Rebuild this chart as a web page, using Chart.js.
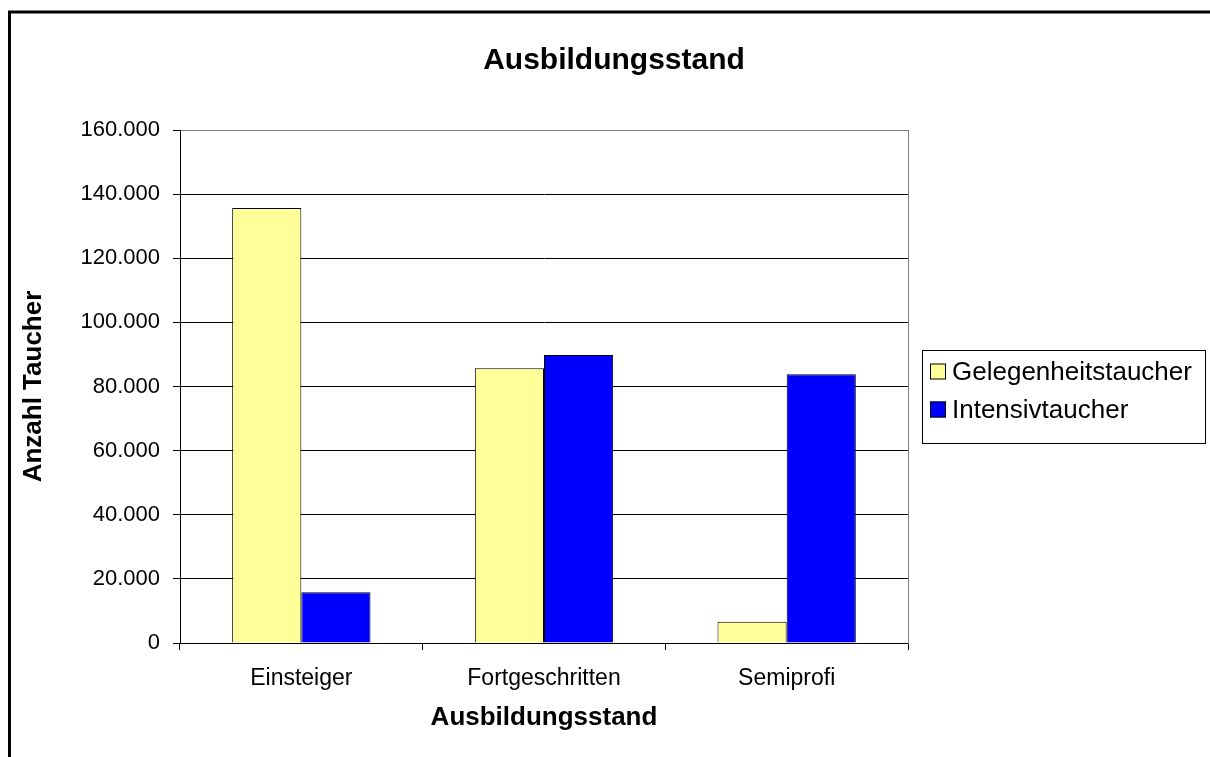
<!DOCTYPE html>
<html><head><meta charset="utf-8">
<script src="https://cdn.jsdelivr.net/npm/chart.js@4.4.0/dist/chart.umd.min.js"></script>
<style>html,body{margin:0;padding:0;background:#fff;}canvas{display:block;}</style>
</head><body>
<canvas id="c" width="1210" height="757" style="width:1210px;height:757px"></canvas>
<script>
const categories = ['Einsteiger', 'Fortgeschritten', 'Semiprofi'];
const seriesNames = ['Gelegenheitstaucher', 'Intensivtaucher'];
const gelegenheitstaucher = [135700, 85700, 6600];
const intensivtaucher = [15800, 89800, 83800];
const yTickValues = [0, 20000, 40000, 60000, 80000, 100000, 120000, 140000, 160000];
const chartTitle = 'Ausbildungsstand';
const xTitle = 'Ausbildungsstand';
const yTitle = 'Anzahl Taucher';

const FONT = "'Liberation Sans', Arial, sans-serif";
const PAD_LEFT = 18, PAD_RIGHT = 0, PAD_TOP = 12, PAD_BOTTOM = 24;
const PLOT_LEFT = 180, PLOT_RIGHT = 908, PLOT_BOTTOM = 643;

function fmt(v) {
  return String(Math.round(v)).replace(/\B(?=(\d{3})+(?!\d))/g, '.');
}

const frame = {
  id: 'frame',
  beforeDraw(chart) {
    const ctx = chart.ctx;
    ctx.save();
    ctx.fillStyle = '#fff';
    ctx.fillRect(0, 0, chart.width, chart.height);
    ctx.strokeStyle = '#000';
    ctx.lineWidth = 3;
    ctx.strokeRect(9.5, 12, 1400, 1000);
    ctx.restore();
  }
};

const boxLegend = {
  id: 'boxLegend',
  afterDraw(chart) {
    const ctx = chart.ctx;
    const ds = chart.data.datasets;
    const bx = 922.5, by = 350.5, bw = 283, bh = 93;
    ctx.save();
    ctx.strokeStyle = '#000';
    ctx.lineWidth = 1;
    ctx.strokeRect(bx, by, bw, bh);
    ctx.font = '26px ' + FONT;
    ctx.textBaseline = 'middle';
    ctx.textAlign = 'left';
    const rows = [371.5, 409.5];
    ds.forEach((d, i) => {
      const cy = rows[i];
      ctx.fillStyle = d.backgroundColor;
      ctx.fillRect(930, cy - 8, 16, 16);
      ctx.strokeStyle = '#000';
      ctx.strokeRect(930.5, cy - 7.5, 15, 15);
      ctx.fillStyle = '#000';
      ctx.fillText(d.label, 952, cy + 1);
    });
    ctx.restore();
  }
};

new Chart(document.getElementById('c'), {
  type: 'bar',
  data: {
    labels: categories,
    datasets: [
      { label: seriesNames[0], data: gelegenheitstaucher, backgroundColor: '#FFFF99', borderColor: '#000', borderWidth: 1, yAxisID: 'y' },
      { label: seriesNames[1], data: intensivtaucher, backgroundColor: '#0000FF', borderColor: '#000', borderWidth: 1, yAxisID: 'y' }
    ]
  },
  options: {
    responsive: false,
    animation: false,
    devicePixelRatio: 1,
    layout: { padding: { left: PAD_LEFT, right: PAD_RIGHT, top: PAD_TOP, bottom: PAD_BOTTOM } },
    datasets: { bar: { barPercentage: 1, categoryPercentage: 0.57 } },
    plugins: {
      legend: { display: false },
      tooltip: { enabled: false },
      title: {
        display: true,
        text: chartTitle,
        color: '#000',
        font: { family: FONT, size: 30, weight: 'bold' },
        padding: { top: 31, bottom: 51 }
      }
    },
    scales: {
      x: {
        offset: true,
        grid: { display: true, drawOnChartArea: false, drawTicks: true, tickLength: 7, offset: true, color: '#000', lineWidth: 1 },
        border: { display: true, color: '#000', width: 1 },
        ticks: { color: '#000', font: { family: FONT, size: 23 }, padding: 15, maxRotation: 0 },
        title: { display: true, text: xTitle, color: '#000', font: { family: FONT, size: 26, weight: 'bold' }, padding: { top: 0, bottom: 0 } },
        afterFit(s) { s.height = (757 - PAD_BOTTOM) - PLOT_BOTTOM; }
      },
      y: {
        position: 'left',
        min: 0, max: 160000,
        afterBuildTicks(s) { s.ticks = yTickValues.map(v => ({ value: v })); },
        grid: {
          color: (c) => (c.tick && c.tick.value === 160000) ? '#808080' : '#000',
          tickColor: '#000',
          tickLength: 7,
          lineWidth: 1
        },
        border: { display: true, color: '#000', width: 1 },
        ticks: { color: '#000', font: { family: FONT, size: 22 }, padding: 13, callback: (v) => fmt(v) },
        title: { display: true, text: yTitle, color: '#000', font: { family: FONT, size: 26, weight: 'bold' }, padding: { top: 0, bottom: 0 } },
        afterFit(s) { s.width = PLOT_LEFT - PAD_LEFT; }
      },
      y2: {
        position: 'right',
        display: true,
        min: 0, max: 160000,
        grid: { display: false, drawTicks: false },
        ticks: { display: false },
        border: { display: true, color: '#808080', width: 1 },
        afterFit(s) { s.width = 1210 - PAD_RIGHT - PLOT_RIGHT; }
      }
    }
  },
  plugins: [frame, boxLegend]
});
</script>
</body></html>
